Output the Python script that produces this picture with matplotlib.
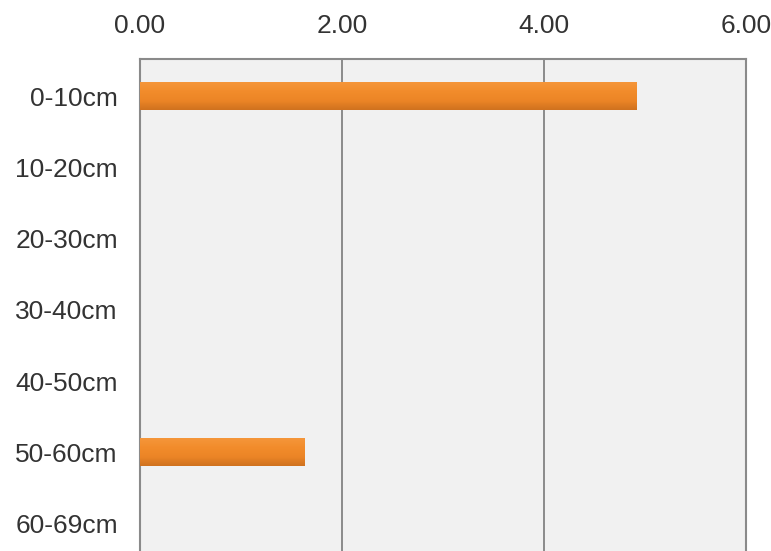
import numpy as np
import matplotlib
matplotlib.use('Agg')
import matplotlib.pyplot as plt
from matplotlib.colors import LinearSegmentedColormap

categories = ['0-10cm', '10-20cm', '20-30cm', '30-40cm', '40-50cm', '50-60cm', '60-69cm']
values = [4.92, 0.0, 0.0, 0.0, 0.0, 1.63, 0.0]
xticks = [0, 2, 4, 6]

plt.rcParams['font.family'] = ['Liberation Sans', 'DejaVu Sans']

fig = plt.figure(figsize=(7.71, 5.51), dpi=100)
ax = fig.add_axes([0.1816, -0.0799, 0.786, 0.9728])
ax.set_facecolor('#f1f1f1')

y = np.arange(len(categories))
bars = ax.barh(y, values, height=0.39, color='#ef8728', zorder=3)

# vertical gradient on each bar
cmap = LinearSegmentedColormap.from_list('bar', ['#f5963a', '#f28c2b', '#ec8526', '#d0721f'])
grad = np.linspace(0, 1, 64).reshape(-1, 1)
for b in bars:
    if b.get_width() <= 0:
        continue
    x0, y0 = b.get_x(), b.get_y()
    ax.imshow(grad, cmap=cmap, aspect='auto', zorder=4,
              extent=(x0, x0 + b.get_width(), y0 + b.get_height(), y0))

ax.set_xlim(0, 6)
ax.set_ylim(7.0, -0.52)
ax.set_xticks(xticks)
ax.set_xticklabels(['%.2f' % v for v in xticks])
ax.xaxis.tick_top()
ax.set_yticks(y)
ax.set_yticklabels(categories)
ax.tick_params(axis='both', length=0, labelsize=19, colors='#333333')
ax.tick_params(axis='x', pad=15)
ax.tick_params(axis='y', pad=16)
ax.grid(axis='x', color='#7a7a7a', linewidth=1.2, zorder=1)
for s in ax.spines.values():
    s.set_color('#8a8a8a')
    s.set_linewidth(1.5)

fig.savefig('out.png', dpi=100)
